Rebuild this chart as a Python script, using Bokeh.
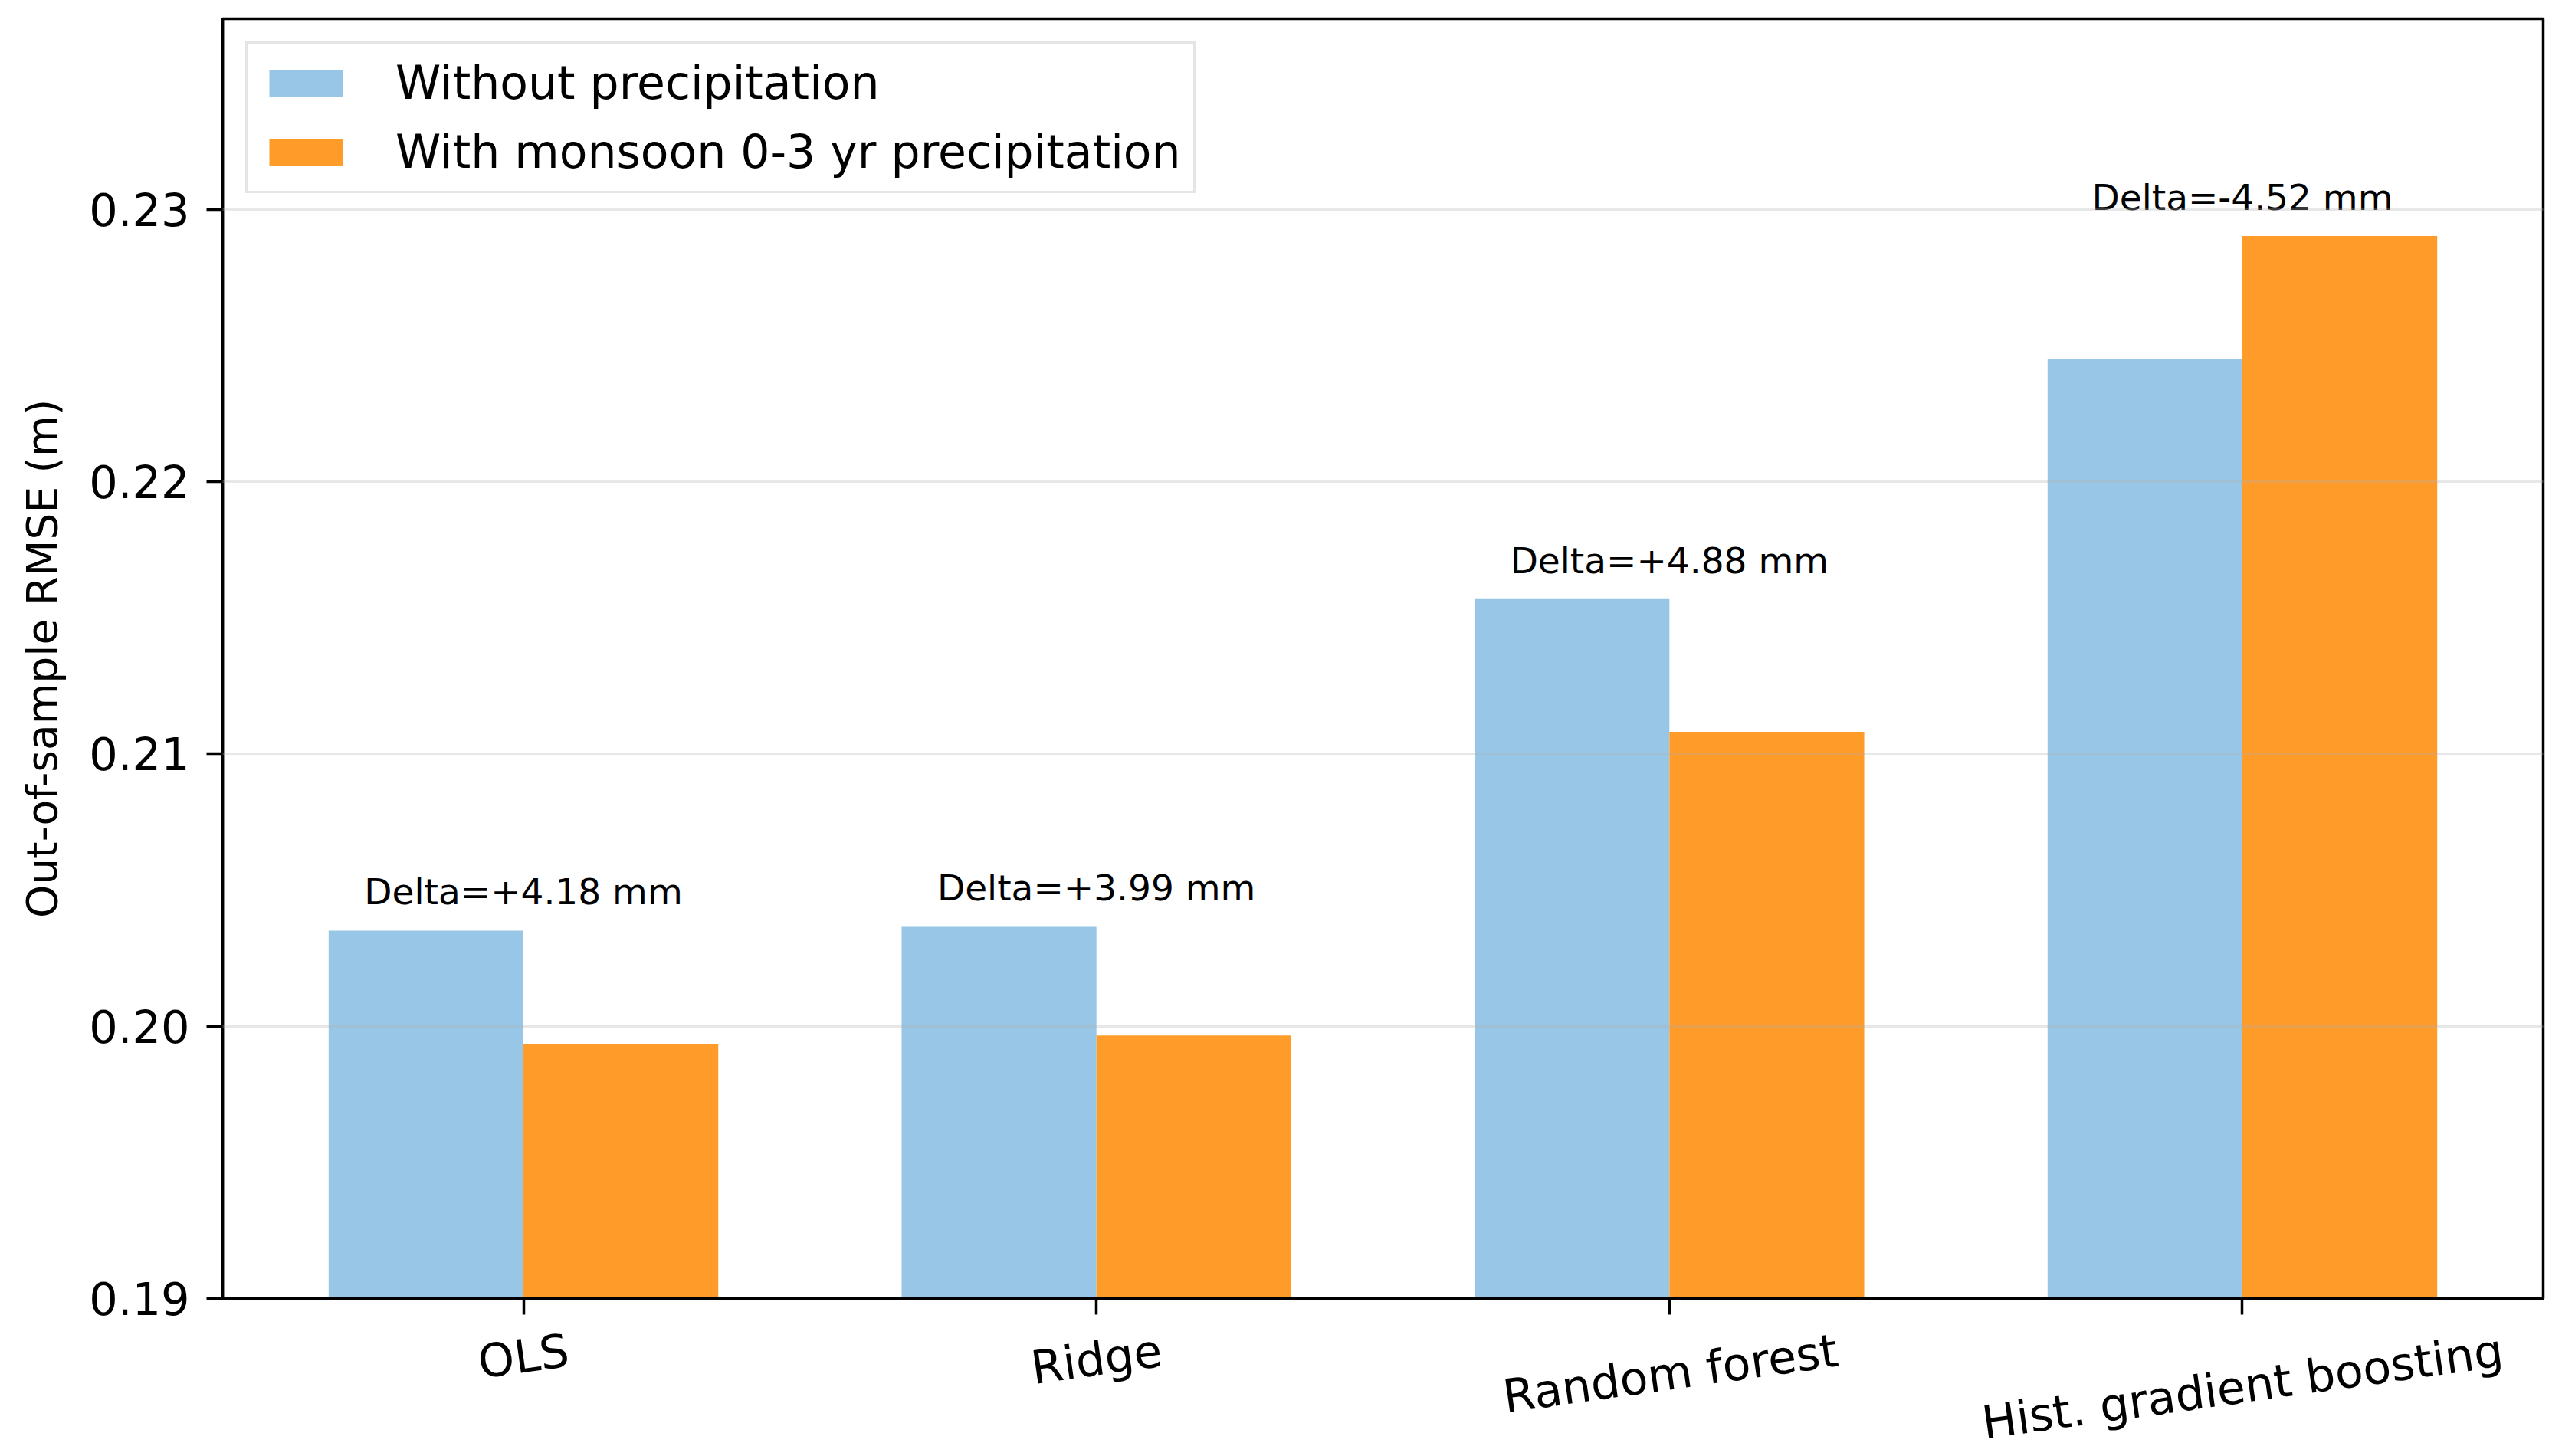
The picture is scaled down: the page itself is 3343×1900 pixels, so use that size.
import math
import numpy as np
from bokeh.plotting import figure
from bokeh.models import (Range1d, FixedTicker, NumeralTickFormatter, Legend, LegendItem,
                          LinearAxis, ColumnDataSource)
from bokeh.core.properties import value
from bokeh.embed import file_html
from bokeh.resources import INLINE

# ---- data ----
models = ["OLS", "Ridge", "Random forest", "Hist. gradient boosting"]
rmse_without = [0.20351, 0.20365, 0.21569, 0.22450]
rmse_with = [0.19933, 0.19966, 0.21081, 0.22902]
delta_labels = ["Delta=+4.18 mm", "Delta=+3.99 mm", "Delta=+4.88 mm", "Delta=-4.52 mm"]
series_names = ["Without precipitation", "With monsoon 0-3 yr precipitation"]
y_ticks = [0.19, 0.20, 0.21, 0.22, 0.23]

# ---- style ----
FONT = "DejaVu Sans"
C_BLUE = "#98C6E6"
C_ORANGE = "#FF9B28"
BAR_W = 0.34
Y0, Y1 = 0.19, 0.2370
X0, X1 = -0.525, 3.525
FW, FH = 3028, 1670
XLAB_PX = 60
ANG = 8.0

p = figure(width=290 + FW + 17, height=24 + FH + 200,
           frame_width=FW, frame_height=FH,
           x_range=Range1d(X0, X1), y_range=Range1d(Y0, Y1),
           output_backend="svg", toolbar_location=None,
           min_border_left=290, min_border_right=17, min_border_top=24, min_border_bottom=200)
p.background_fill_color = "white"
p.border_fill_color = "white"
p.outline_line_color = "black"
p.outline_line_width = 3.5

idx = np.arange(len(models))
src = ColumnDataSource(dict(x1=idx - BAR_W / 2, x2=idx + BAR_W / 2,
                            a=rmse_without, b=rmse_with))
r1 = p.vbar(x="x1", top="a", bottom=0, width=BAR_W, source=src,
            fill_color=C_BLUE, line_color=None)
r2 = p.vbar(x="x2", top="b", bottom=0, width=BAR_W, source=src,
            fill_color=C_ORANGE, line_color=None)

# delta annotations
ty = [max(a, b) + 0.001 for a, b in zip(rmse_without, rmse_with)]
p.text(x=list(idx), y=ty, text=delta_labels, text_font=value(FONT),
       text_font_size="47px", text_align="center", text_baseline="alphabetic",
       y_offset=-15, text_color="black")

# axes
p.yaxis.ticker = FixedTicker(ticks=y_ticks)
p.yaxis.formatter = NumeralTickFormatter(format="0.00")
p.xaxis.ticker = FixedTicker(ticks=list(idx))
p.xaxis.major_label_overrides = {int(i): "" for i in idx}
p.xaxis.major_label_text_font_size = "1px"
p.xaxis.major_label_standoff = 0
for ax in (p.xaxis[0], p.yaxis[0]):
    ax.axis_line_color = "black"
    ax.axis_line_width = 3.5
    ax.major_tick_line_color = "black"
    ax.major_tick_line_width = 3.5
    ax.major_tick_in = 0
    ax.major_tick_out = 21
    ax.minor_tick_line_color = None
    ax.major_label_text_font = FONT
    ax.major_label_text_color = "black"
p.yaxis.major_label_text_font_size = "59px"
p.yaxis.major_label_standoff = 22
p.yaxis.axis_label = "Out-of-sample RMSE (m)"
p.yaxis.axis_label_text_font = FONT
p.yaxis.axis_label_text_font_size = "55px"
p.yaxis.axis_label_text_font_style = "normal"
p.yaxis.axis_label_text_color = "black"
p.yaxis.axis_label_standoff = 26

# second bottom axis carrying rotated, centred category labels
# (Bokeh right-aligns rotated labels, so its ticks are shifted by half the text width)
EM = {"O": .787, "L": .557, "S": .635, "R": .695, "H": .752, "i": .278, "d": .635,
      "g": .635, "e": .615, "a": .613, "n": .634, "o": .612, "m": .974, " ": .318,
      "f": .352, "r": .411, "s": .521, "t": .392, ".": .318, "b": .635}
ppu_x = FW / (X1 - X0)
lab_ticks = []
for i, name in enumerate(models):
    w = sum(EM.get(c, 0.6) for c in name) * XLAB_PX
    lab_ticks.append(round(i + 0.5 * w * math.cos(math.radians(ANG)) / ppu_x, 4))
ax2 = LinearAxis(ticker=FixedTicker(ticks=lab_ticks),
                 major_label_overrides={t: n for t, n in zip(lab_ticks, models)},
                 axis_line_color=None, major_tick_line_color=None,
                 minor_tick_line_color=None,
                 major_label_orientation=math.radians(ANG),
                 major_label_standoff=40,
                 major_label_text_font=FONT, major_label_text_font_size=f"{XLAB_PX}px",
                 major_label_text_color="black")
p.add_layout(ax2, "below")

# grid
p.xgrid.visible = False
p.ygrid.ticker = FixedTicker(ticks=y_ticks)
p.ygrid.grid_line_color = "#b0b0b0"
p.ygrid.grid_line_alpha = 0.3
p.ygrid.grid_line_width = 3
p.ygrid.level = "guide"

legend = Legend(items=[LegendItem(label=series_names[0], renderers=[r1]),
                       LegendItem(label=series_names[1], renderers=[r2])],
                location="top_left")
legend.margin = 30
legend.padding = 16
legend.spacing = 20
legend.glyph_width = 120
legend.glyph_height = 44
legend.label_standoff = 57
legend.label_text_font = FONT
legend.label_text_font_size = "60px"
legend.label_text_color = "black"
legend.border_line_color = "#cccccc"
legend.border_line_width = 3
legend.background_fill_alpha = 0.8
p.add_layout(legend)

open("out.html", "w").write(file_html(p, INLINE))
